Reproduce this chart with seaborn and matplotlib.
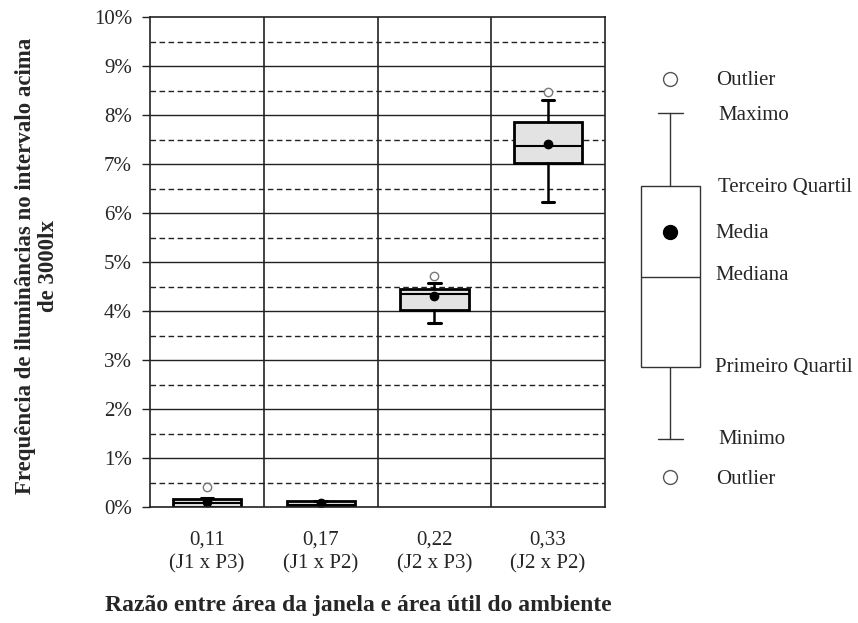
import numpy as np
import seaborn as sns
from matplotlib import pyplot as plt
from matplotlib.ticker import FuncFormatter, MultipleLocator

# data (values in %)
categories = ["0,11\n(J1 x P3)", "0,17\n(J1 x P2)", "0,22\n(J2 x P3)", "0,33\n(J2 x P2)"]
whis_low = [0.00, 0.00, 3.76, 6.22]
q1 = [0.01, 0.00, 4.03, 7.02]
medians = [0.09, 0.05, 4.34, 7.36]
q3 = [0.17, 0.12, 4.45, 7.86]
whis_high = [0.18, 0.12, 4.58, 8.30]
means = [0.10, 0.09, 4.30, 7.41]
outliers = [[0.40], [], [4.72], [8.47]]

legend_labels = ["Outlier", "Maximo", "Terceiro Quartil", "Media", "Mediana",
                 "Primeiro Quartil", "Minimo", "Outlier"]

sns.set_theme(style="white")
plt.rcParams['font.family'] = ['Liberation Serif', 'DejaVu Serif']

fig = plt.figure(figsize=(8.58, 6.23), dpi=100)
ax = fig.add_axes([150/858, 1-507/623, 455/858, 490/623])

stats = []
for i in range(len(categories)):
    stats.append(dict(whislo=whis_low[i], q1=q1[i], med=medians[i], q3=q3[i],
                      whishi=whis_high[i], mean=means[i], fliers=outliers[i]))

# grid
for v in np.arange(1, 10, 1):
    ax.axhline(v, color="#222222", lw=1.0, zorder=0)
for v in np.arange(0.5, 10, 1):
    ax.axhline(v, color="#222222", lw=1.0, ls=(0, (4, 2.5)), zorder=0)
for v in [0.5, 1.5, 2.5]:
    ax.axvline(v, color="#222222", lw=1.2, zorder=0)

ax.bxp(stats, positions=range(len(categories)), widths=0.6, capwidths=0.11,
       patch_artist=True, showmeans=True,
       boxprops=dict(facecolor="#e3e3e3", edgecolor="black", linewidth=2.0),
       medianprops=dict(color="black", linewidth=1.5),
       whiskerprops=dict(color="black", linewidth=1.8),
       capprops=dict(color="black", linewidth=2.2),
       meanprops=dict(marker="o", markerfacecolor="black", markeredgecolor="black",
                      markersize=6),
       flierprops=dict(marker="o", markerfacecolor="white", markeredgecolor="#777777",
                       markersize=6, markeredgewidth=1.0))

ax.set_xlim(-0.5, 3.5)
ax.set_ylim(0, 10)
ax.yaxis.set_major_locator(MultipleLocator(1))
ax.yaxis.set_major_formatter(FuncFormatter(lambda v, p: "%d%%" % round(v)))
ax.set_xticks(range(len(categories)))
ax.set_xticklabels(categories, fontsize=15, linespacing=1.35)
ax.set_xticks([-0.5, 0.5, 1.5, 2.5, 3.5], minor=True)
ax.tick_params(axis="x", which="major", length=0, pad=17)
ax.tick_params(axis="x", which="minor", length=5, width=1, color="#222222", direction="out")
ax.tick_params(axis="y", which="major", length=6, width=1, color="#222222",
               direction="out", labelsize=15, pad=7, left=True)
for s in ax.spines.values():
    s.set_color("#222222")
    s.set_linewidth(1.2)

fig.text(358/858, 1-605/623, "Razão entre área da janela e área útil do ambiente",
         fontsize=17, fontweight="bold", ha="center", va="center")
fig.text(37/858, 1-266/623, "Frequência de iluminâncias no intervalo acima\nde 3000lx",
         fontsize=16.5, fontweight="bold", ha="center", va="center", rotation=90,
         linespacing=1.1, multialignment="center")

# schematic legend on the right
lax = fig.add_axes([620/858, 1-500/623, 238/858, 440/623])
lax.set_xlim(620, 858)
lax.set_ylim(500, 60)
lax.axis("off")
legend_box = [dict(whislo=439, q1=367, med=277, q3=186, whishi=113, mean=232,
                   fliers=[79, 477])]
lax.bxp(legend_box, positions=[670], widths=59, capwidths=25, patch_artist=True,
        showmeans=True,
        boxprops=dict(facecolor="white", edgecolor="#333333", linewidth=1.0),
        medianprops=dict(color="#333333", linewidth=1.0),
        whiskerprops=dict(color="#333333", linewidth=1.0),
        capprops=dict(color="#333333", linewidth=1.0),
        meanprops=dict(marker="o", markerfacecolor="black", markeredgecolor="black",
                       markersize=10),
        flierprops=dict(marker="o", markerfacecolor="white", markeredgecolor="#555555",
                        markersize=10, markeredgewidth=1.0))
legend_y = [80, 115, 187, 233, 275, 367, 439, 479]
legend_x = [716, 718, 718, 715, 715, 715, 718, 716]
for lx, ly, lab in zip(legend_x, legend_y, legend_labels):
    lax.text(lx, ly, lab, fontsize=15, va="center", ha="left")

fig.savefig("out.png", dpi=100)
